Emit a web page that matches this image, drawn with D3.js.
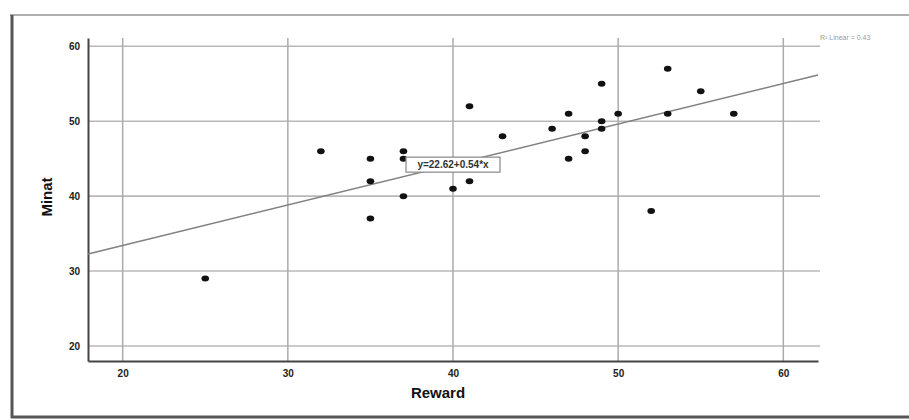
<!DOCTYPE html>
<html>
<head>
<meta charset="utf-8">
<script src="https://cdn.jsdelivr.net/npm/d3@7"></script>
<style>
  body { margin: 0; background: #fff; }
  svg { font-family: "Liberation Sans", Arial, sans-serif; }
</style>
</head>
<body>
<div id="chart"></div>
<script>
// Reward vs Minat observations
const reward = [25, 32, 35, 35, 35, 37, 37, 37, 40, 41, 41, 43, 46, 47, 47, 48, 48, 49, 49, 49, 50, 52, 53, 53, 55, 57];
const minat  = [29, 46, 45, 42, 37, 46, 45, 40, 41, 52, 42, 48, 49, 51, 45, 48, 46, 55, 50, 49, 51, 38, 57, 51, 54, 51];
const xTicks = [20, 30, 40, 50, 60];
const yTicks = [20, 30, 40, 50, 60];
const fit = { intercept: 22.62, slope: 0.54 };
const fitLabel = "y=22.62+0.54*x";
const r2Label = "R\u00b2 Linear = 0.43";

const width = 909, height = 420;
const svg = d3.select("#chart").append("svg")
    .attr("width", width)
    .attr("height", height);

// outer frame
svg.append("line").attr("x1", 10).attr("x2", width).attr("y1", 15).attr("y2", 15)
    .attr("stroke", "#b0b0b0").attr("stroke-width", 2);
svg.append("line").attr("x1", 12).attr("x2", 12).attr("y1", 15).attr("y2", 418)
    .attr("stroke", "#555").attr("stroke-width", 3);
svg.append("line").attr("x1", 11).attr("x2", width).attr("y1", 417).attr("y2", 417)
    .attr("stroke", "#555").attr("stroke-width", 3);

const x = d3.scaleLinear().domain([17.9, 62.1]).range([88, 818]);
const y = d3.scaleLinear().domain([18, 61.1]).range([361, 38]);

// grid
svg.append("g").selectAll("line").data(yTicks).join("line")
    .attr("x1", x.range()[0]).attr("x2", x.range()[1] + 2)
    .attr("y1", d => y(d)).attr("y2", d => y(d))
    .attr("stroke", "#b8b8b8").attr("stroke-width", 1.6);
svg.append("g").selectAll("line").data(xTicks).join("line")
    .attr("x1", d => x(d)).attr("x2", d => x(d))
    .attr("y1", y.range()[1]).attr("y2", y.range()[0])
    .attr("stroke", "#ababab").attr("stroke-width", 1.5);

// axes
const xAxis = svg.append("g")
    .attr("transform", `translate(0,${y.range()[0]})`)
    .call(d3.axisBottom(x).tickValues(xTicks).tickSize(0).tickPadding(9));
const yAxis = svg.append("g")
    .attr("transform", `translate(${x.range()[0]},0)`)
    .call(d3.axisLeft(y).tickValues(yTicks).tickSize(0).tickPadding(8));
[xAxis, yAxis].forEach(a => {
    a.select(".domain").attr("stroke", "#444").attr("stroke-width", 2);
    a.selectAll("text").attr("fill", "#222").style("font-size", "10px").style("font-weight", "bold");
});

// fit line
const x0 = x.domain()[0], x1 = x.domain()[1];
svg.append("line")
    .attr("x1", x(x0)).attr("y1", y(fit.intercept + fit.slope * x0))
    .attr("x2", x(x1)).attr("y2", y(fit.intercept + fit.slope * x1))
    .attr("stroke", "#808080").attr("stroke-width", 1.5);

// points
svg.append("g").selectAll("ellipse").data(reward).join("ellipse")
    .attr("cx", (d) => x(d))
    .attr("cy", (d, i) => y(minat[i]))
    .attr("rx", 3.8).attr("ry", 3)
    .attr("fill", "#111");

// fit label box
const lbl = svg.append("g").attr("transform", `translate(${x(40)},${y(44.2)})`);
lbl.append("rect").attr("x", -47).attr("y", -7.5).attr("width", 94).attr("height", 15)
    .attr("fill", "#fff").attr("stroke", "#888").attr("stroke-width", 1.2);
lbl.append("text").attr("text-anchor", "middle").attr("dy", "0.35em")
    .style("font-size", "10px").style("font-weight", "bold").attr("fill", "#333")
    .text(fitLabel);

// R2 label
svg.append("text").attr("x", 820).attr("y", 40)
    .style("font-size", "7px").attr("fill", "#999")
    .text(r2Label);

// axis titles
svg.append("text").attr("x", 438).attr("y", 398).attr("text-anchor", "middle")
    .style("font-size", "15px").style("font-weight", "bold").attr("fill", "#111")
    .text("Reward");
svg.append("text").attr("transform", "translate(52,197) rotate(-90)").attr("text-anchor", "middle")
    .style("font-size", "15px").style("font-weight", "bold").attr("fill", "#111")
    .text("Minat");
</script>
</body>
</html>
